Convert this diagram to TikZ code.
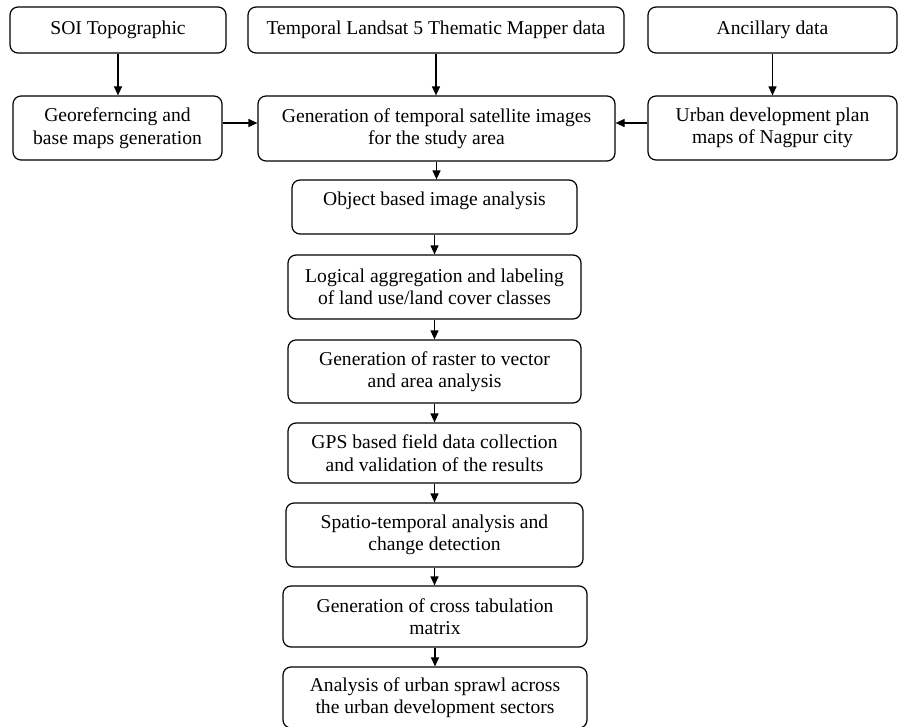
\documentclass[tikz,border=0pt]{standalone}
\usepackage{fontspec}
\setmainfont{Liberation Serif}
\usetikzlibrary{calc}
\usetikzlibrary{arrows, arrows.meta}

\begin{document}
\begin{tikzpicture}[x=1bp, y=-1bp]

\useasboundingbox (0, 0) rectangle (899, 727) ;

\def\toprow{30}
\def\secondrow{128}
\def\chaincol{434.5}

\tikzstyle{flow box} = [draw=black, line width=1.2bp, rounded corners=8bp, align=center,
	inner sep=0pt, font=\fontsize{19.6bp}{22.5bp}\selectfont]
\tikzstyle{flow arrow} = [line width=1.2bp, -{Triangle[length=9bp, width=8bp]}]

% input data

\node [flow box, minimum width=216bp, minimum height=46bp] (soi) at (118, \toprow) {SOI Topographic} ;
\node [flow box, minimum width=376bp, minimum height=46bp] (landsat) at (436, \toprow) {Temporal Landsat 5 Thematic Mapper data} ;
\node [flow box, minimum width=249bp, minimum height=46bp] (ancillary) at (772.5, \toprow) {Ancillary data} ;

% preprocessing

\node [flow box, minimum width=209bp, minimum height=64bp] (georef) at (117.5, \secondrow)
	{Georeferncing and\\base maps generation} ;
\node [flow box, minimum width=357bp, minimum height=65bp] (gensat) at (436.5, \secondrow + 0.5)
	{Generation of temporal satellite images\\for the study area} ;
\node [flow box, minimum width=249bp, minimum height=64bp] (udplan) at (772.5, \secondrow)
	{Urban development plan\\maps of Nagpur city} ;

% analysis chain

\node [flow box, minimum width=285bp, minimum height=54bp, text depth=16bp] (obia) at (\chaincol, 207)
	{Object based image analysis} ;
\node [flow box, minimum width=293bp, minimum height=64bp] (logical) at (\chaincol, 287)
	{Logical aggregation and labeling\\of land use/land cover classes} ;
\node [flow box, minimum width=293bp, minimum height=63bp] (raster) at (\chaincol, 371.5)
	{Generation of raster to vector\\and area analysis} ;
\node [flow box, minimum width=293bp, minimum height=60bp] (gps) at (\chaincol, 453)
	{GPS based field data collection\\and validation of the results} ;
\node [flow box, minimum width=297bp, minimum height=64bp] (spatio) at (\chaincol, 535)
	{Spatio-temporal analysis and\\change detection} ;
\node [flow box, minimum width=304bp, minimum height=61bp] (crosstab) at (435, 616.5)
	{Generation of cross tabulation\\matrix} ;
\node [flow box, minimum width=304bp, minimum height=61bp] (sprawl) at (435, 697.5)
	{Analysis of urban sprawl across\\the urban development sectors} ;

% arrows

\foreach \from/\to in {soi/georef, landsat/gensat, ancillary/udplan, gensat/obia, obia/logical,
	logical/raster, raster/gps, gps/spatio, spatio/crosstab, crosstab/sprawl}
	\draw [flow arrow] (\from.south) -- (\from.south |- \to.north) ;

\draw [flow arrow] ([yshift=5bp]georef.east) -- ([yshift=5bp]georef.east -| gensat.west) ;
\draw [flow arrow] ([yshift=5bp]udplan.west) -- ([yshift=5bp]udplan.west -| gensat.east) ;

\end{tikzpicture}
\end{document}
